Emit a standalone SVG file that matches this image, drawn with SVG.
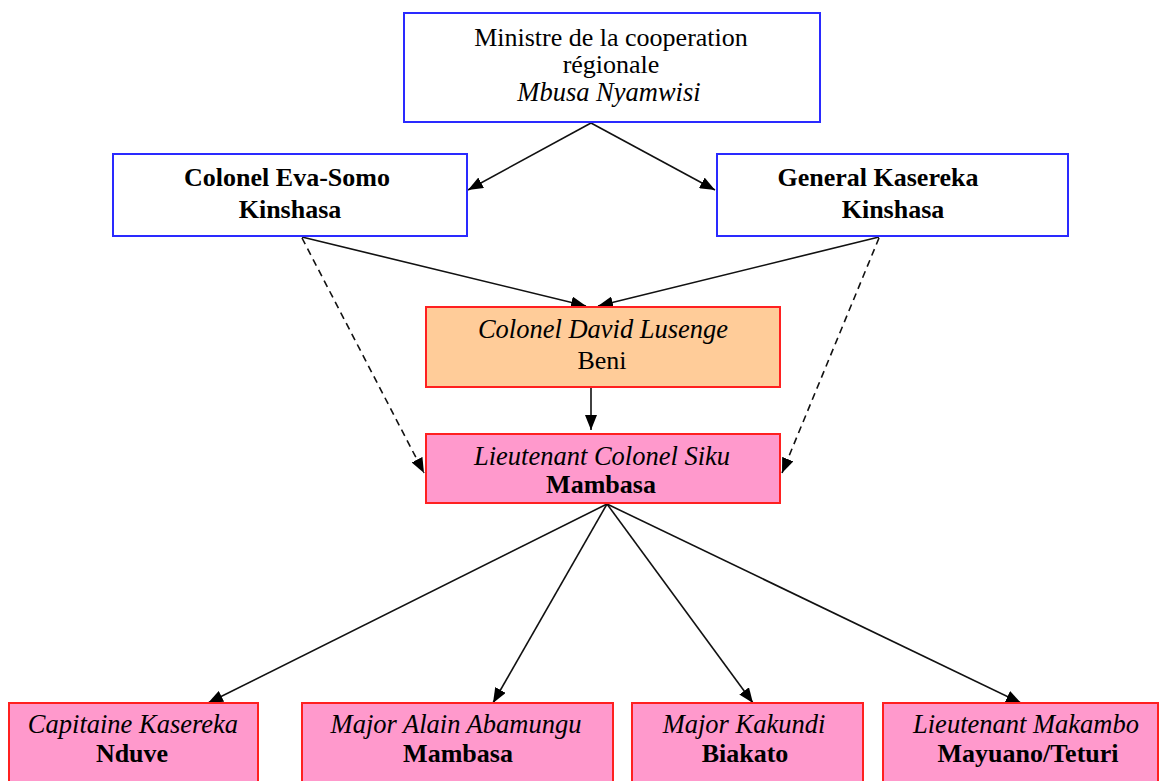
<svg xmlns="http://www.w3.org/2000/svg" width="1166" height="781" viewBox="0 0 1166 781">
<style>
.blue{fill:#ffffff;stroke:#2a2aff;stroke-width:2}
.peach{fill:#ffcc99;stroke:#ff2020;stroke-width:2}
.pink{fill:#ff99cc;stroke:#ff2020;stroke-width:2}
text{font-family:"Liberation Serif","Times New Roman",serif;font-size:26px;fill:#000;text-anchor:middle}
.i{font-style:italic;font-size:26.5px}
.b{font-weight:bold}
.c{stroke:#111;stroke-width:1.6;fill:none;marker-end:url(#ah)}
.d{stroke-dasharray:7 5}
</style>
<defs>
<marker id="ah" markerUnits="userSpaceOnUse" markerWidth="15" markerHeight="12" refX="15" refY="6" orient="auto">
<path d="M0,0 L15,6 L0,12 z" fill="#000"/>
</marker>
</defs>
<g id="connectors">
<line class="c" x1="591" y1="123" x2="468" y2="190"/>
<line class="c" x1="591" y1="123" x2="715" y2="190"/>
<line class="c" x1="302" y1="237" x2="586" y2="306"/>
<line class="c" x1="879" y1="237" x2="598" y2="306"/>
<line class="c d" x1="302" y1="238" x2="424" y2="473"/>
<line class="c d" x1="879" y1="238" x2="782" y2="473"/>
<line class="c" x1="591" y1="388" x2="591" y2="430"/>
<line class="c" x1="607" y1="504" x2="208" y2="703"/>
<line class="c" x1="607" y1="504" x2="493" y2="703"/>
<line class="c" x1="607" y1="504" x2="753" y2="703"/>
<line class="c" x1="607" y1="504" x2="1021" y2="703"/>
</g>
<g id="ministre">
<rect class="blue" x="404" y="13" width="416" height="109"/>
<text x="611" y="46">Ministre de la cooperation</text>
<text x="611" y="73">régionale</text>
<text class="i" x="609" y="101">Mbusa Nyamwisi</text>
</g>
<g id="eva-somo">
<rect class="blue" x="113" y="154" width="354" height="82"/>
<text class="b" x="287" y="186">Colonel Eva-Somo</text>
<text class="b" x="290" y="218">Kinshasa</text>
</g>
<g id="general-kasereka">
<rect class="blue" x="717" y="154" width="351" height="82"/>
<text class="b" x="878" y="186">General Kasereka</text>
<text class="b" x="893" y="218">Kinshasa</text>
</g>
<g id="lusenge">
<rect class="peach" x="426" y="307" width="354" height="80"/>
<text class="i" x="603" y="338">Colonel David Lusenge</text>
<text x="602" y="369">Beni</text>
</g>
<g id="siku">
<rect class="pink" x="426" y="434" width="354" height="69"/>
<text class="i" x="602" y="465">Lieutenant Colonel Siku</text>
<text class="b" x="601" y="493">Mambasa</text>
</g>
<g id="capitaine-kasereka">
<rect class="pink" x="9" y="703" width="249" height="90"/>
<text class="i" x="133" y="733">Capitaine Kasereka</text>
<text class="b" x="132" y="762">Nduve</text>
</g>
<g id="abamungu">
<rect class="pink" x="302" y="703" width="311" height="90"/>
<text class="i" x="456" y="733">Major Alain Abamungu</text>
<text class="b" x="458" y="762">Mambasa</text>
</g>
<g id="kakundi">
<rect class="pink" x="632" y="703" width="231" height="90"/>
<text class="i" x="744" y="733">Major Kakundi</text>
<text class="b" x="745" y="762">Biakato</text>
</g>
<g id="makambo">
<rect class="pink" x="883" y="703" width="275" height="90"/>
<text class="i" x="1026" y="733">Lieutenant Makambo</text>
<text class="b" x="1028" y="762">Mayuano/Teturi</text>
</g>
</svg>
